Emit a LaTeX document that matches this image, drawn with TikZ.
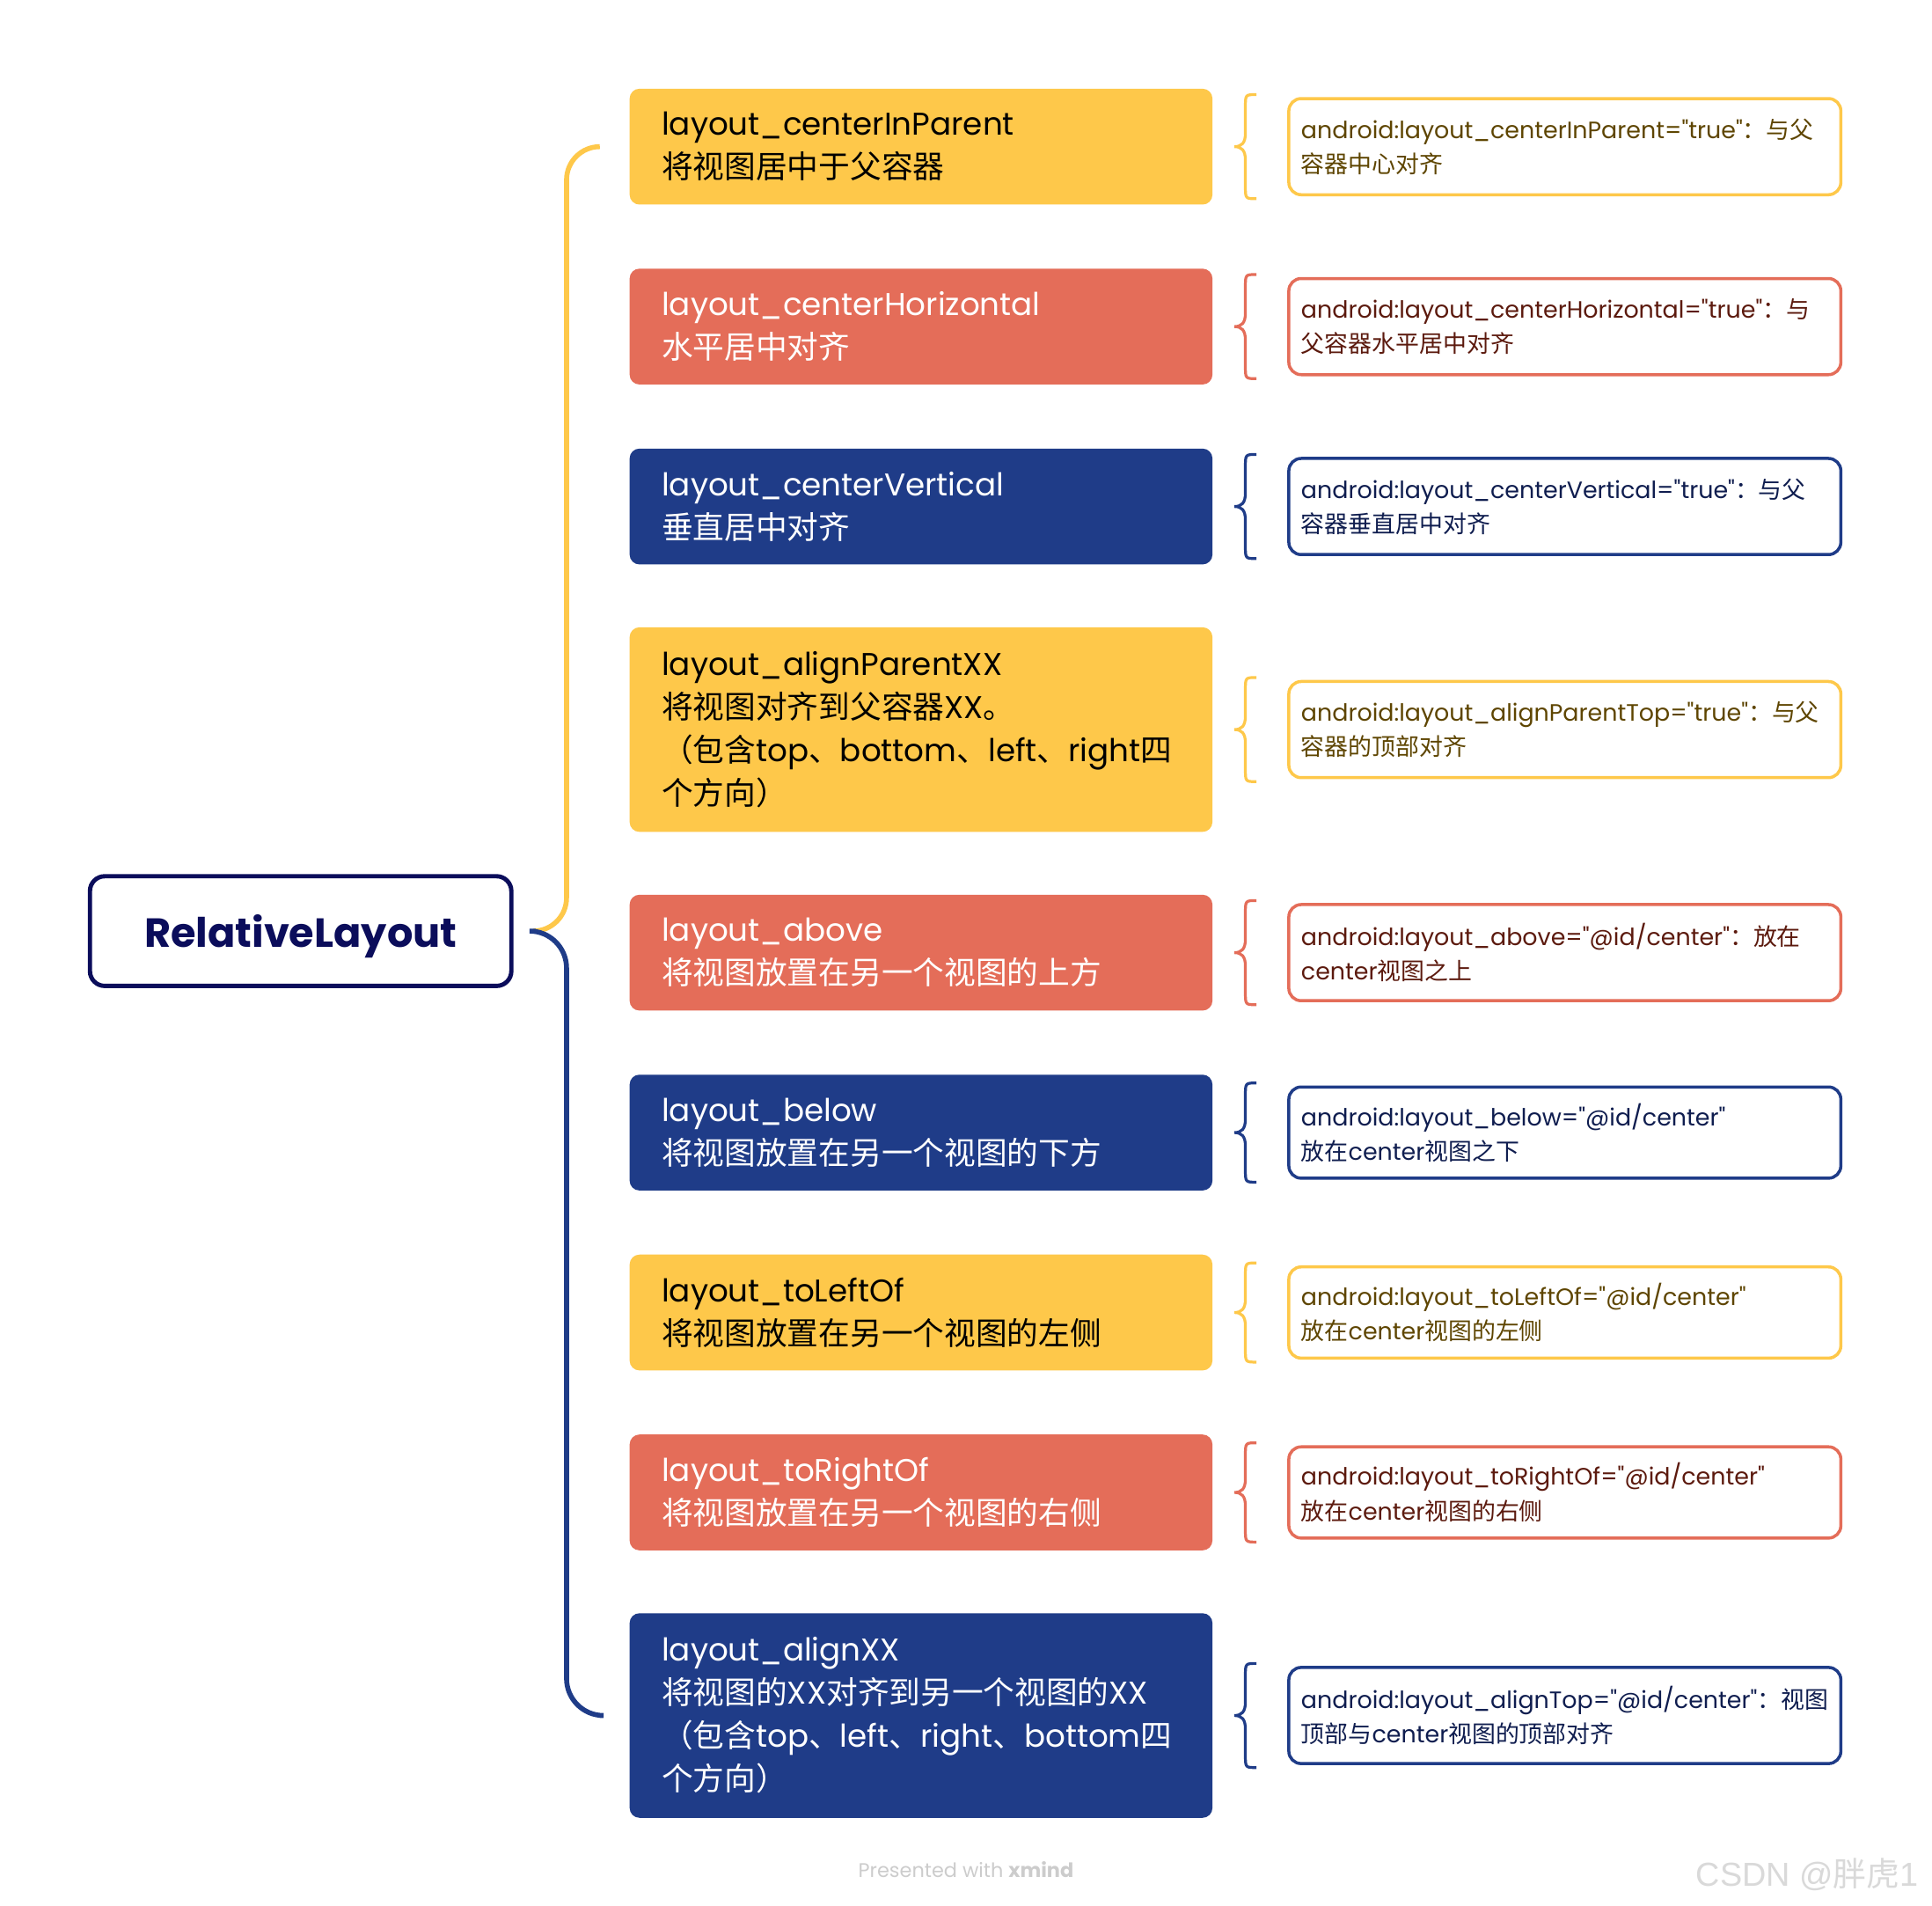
\documentclass[tikz,border=0pt]{standalone}
\usepackage{fontspec}
\setmainfont{Poppins}[Ligatures=TeXOff]
\newfontfamily\zhfont{Noto Sans CJK SC}
\newfontfamily\wmfont{Liberation Sans}[Ligatures=TeXOff]
\newcommand\zh[1]{{\zhfont #1}}
\usetikzlibrary{calc}
\definecolor{cY}{HTML}{FEC84A}
\definecolor{cR}{HTML}{E46D59}
\definecolor{cB}{HTML}{1F3C88}
\definecolor{cRoot}{HTML}{0B0D5B}
\definecolor{tY}{HTML}{5E4500}
\definecolor{tR}{HTML}{5C1A0E}
\definecolor{tB}{HTML}{0F1D4F}
\begin{document}
\begin{tikzpicture}[x=1pt,y=-1pt,
  lbox/.style={rectangle, rounded corners=8pt, text width=421pt, inner xsep=26pt, inner ysep=0pt,
     minimum height=94pt, align=left, font=\fontsize{25.5pt}{35pt}\selectfont},
  rbox/.style={rectangle, rounded corners=10pt, draw, line width=2.5pt, fill=white, text width=428pt,
     inner xsep=10pt, inner ysep=0pt, minimum height=78pt, align=left, font=\fontsize{19.2pt}{28pt}\selectfont},
  brc/.style={line width=2.3pt},
  conn/.style={line width=4pt, rounded corners=27pt}]
\fill[white] (0,0) rectangle (1568,1546);
\useasboundingbox (0,0) rectangle (1568,1546);

\node[draw=cRoot, line width=3.5pt, rounded corners=12pt, minimum width=342pt, minimum height=89pt,
      text=cRoot, font=\fontsize{33pt}{40pt}\selectfont\bfseries] (root) at (244,755.5) {\raisebox{-4pt}[\height][\depth]{RelativeLayout}};

\node[lbox, fill=cY, text=black] (l1) at (747.5,119) {layout\_centerInParent\\\zh{将视图居中于父容器}};
\node[lbox, fill=cR, text=white] (l2) at (747.5,265) {layout\_centerHorizontal\\\zh{水平居中对齐}};
\node[lbox, fill=cB, text=white] (l3) at (747.5,411) {layout\_centerVertical\\\zh{垂直居中对齐}};
\node[lbox, fill=cY, text=black, minimum height=166pt] (l4) at (747.5,592) {layout\_alignParentXX\\\zh{将视图对齐到父容器}XX\zh{。}\\\zh{（包含}top\zh{、}bottom\zh{、}left\zh{、}right\zh{四}\\\zh{个方向）}};
\node[lbox, fill=cR, text=white] (l5) at (747.5,773) {layout\_above\\\zh{将视图放置在另一个视图的上方}};
\node[lbox, fill=cB, text=white] (l6) at (747.5,919) {layout\_below\\\zh{将视图放置在另一个视图的下方}};
\node[lbox, fill=cY, text=black] (l7) at (747.5,1065) {layout\_toLeftOf\\\zh{将视图放置在另一个视图的左侧}};
\node[lbox, fill=cR, text=white] (l8) at (747.5,1211) {layout\_toRightOf\\\zh{将视图放置在另一个视图的右侧}};
\node[lbox, fill=cB, text=white, minimum height=166pt] (l9) at (747.5,1392) {layout\_alignXX\\\zh{将视图的}XX\zh{对齐到另一个视图的}XX\\\zh{（包含}top\zh{、}left\zh{、}right\zh{、}bottom\zh{四}\\\zh{个方向）}};

\node[rbox, draw=cY, text=tY] (r1) at (1270,119) {android:layout\_centerInParent="true"\zh{：与父}\\\zh{容器中心对齐}};
\node[rbox, draw=cR, text=tR] (r2) at (1270,265) {android:layout\_centerHorizontal="true"\zh{：与}\\\zh{父容器水平居中对齐}};
\node[rbox, draw=cB, text=tB] (r3) at (1270,411) {android:layout\_centerVertical="true"\zh{：与父}\\\zh{容器垂直居中对齐}};
\node[rbox, draw=cY, text=tY] (r4) at (1270,592) {android:layout\_alignParentTop="true"\zh{：与父}\\\zh{容器的顶部对齐}};
\node[rbox, draw=cR, text=tR] (r5) at (1270,773) {android:layout\_above="@id/center"\zh{：放在}\\center\zh{视图之上}};
\node[rbox, draw=cB, text=tB, minimum height=74pt] (r6) at (1270,919) {android:layout\_below="@id/center"\\\zh{放在}center\zh{视图之下}};
\node[rbox, draw=cY, text=tY, minimum height=74pt] (r7) at (1270,1065) {android:layout\_toLeftOf="@id/center"\\\zh{放在}center\zh{视图的左侧}};
\node[rbox, draw=cR, text=tR, minimum height=74pt] (r8) at (1270,1211) {android:layout\_toRightOf="@id/center"\\\zh{放在}center\zh{视图的右侧}};
\node[rbox, draw=cB, text=tB] (r9) at (1270,1392) {android:layout\_alignTop="@id/center"\zh{：视图}\\\zh{顶部与}center\zh{视图的顶部对齐}};

\foreach \nm/\cc in {r1/cY,r2/cR,r3/cB,r4/cY,r5/cR,r6/cB,r7/cY,r8/cR,r9/cB}{
  \draw[brc, \cc] let \p1=(\nm.north west), \p2=(\nm.south west) in
    (\x1-25pt,\y1+2pt) .. controls (\x1-34pt,\y1+2pt) .. (\x1-34pt,\y1-8pt)
    -- (\x1-34pt,0.5*\y1+0.5*\y2+11pt) .. controls (\x1-34pt,0.5*\y1+0.5*\y2+3pt) and (\x1-37pt,0.5*\y1+0.5*\y2) .. (\x1-43pt,0.5*\y1+0.5*\y2)
    .. controls (\x1-37pt,0.5*\y1+0.5*\y2) and (\x1-34pt,0.5*\y1+0.5*\y2-3pt) .. (\x1-34pt,0.5*\y1+0.5*\y2-11pt)
    -- (\x1-34pt,\y2+8pt) .. controls (\x1-34pt,\y2-2pt) .. (\x1-25pt,\y2-2pt);
}

\coordinate (jn) at ($(root.east)+(18,0)$);
\coordinate (yt) at ($(l1.west)+(-24,0)$);
\coordinate (bt) at ($(l9.west)+(-24,0)$);
\coordinate (sp) at ($(yt)+(-27,0)$);
\draw[conn, cY] (jn) -- (jn -| sp) -- (sp |- yt) -- (yt);
\draw[conn, cB, rounded corners=30pt] (jn) -- (jn -| sp) -- (sp |- bt) -- (bt);

\node[text=black!20, font=\fontsize{16pt}{19pt}\selectfont] (foot) at (784,1517) {Presented with \textbf{xmind}};
\node[anchor=west, text=black!15, font=\fontsize{27pt}{32pt}\selectfont\wmfont] (wm) at (1373,1521) {CSDN @\zh{胖虎}1};
\end{tikzpicture}
\end{document}
